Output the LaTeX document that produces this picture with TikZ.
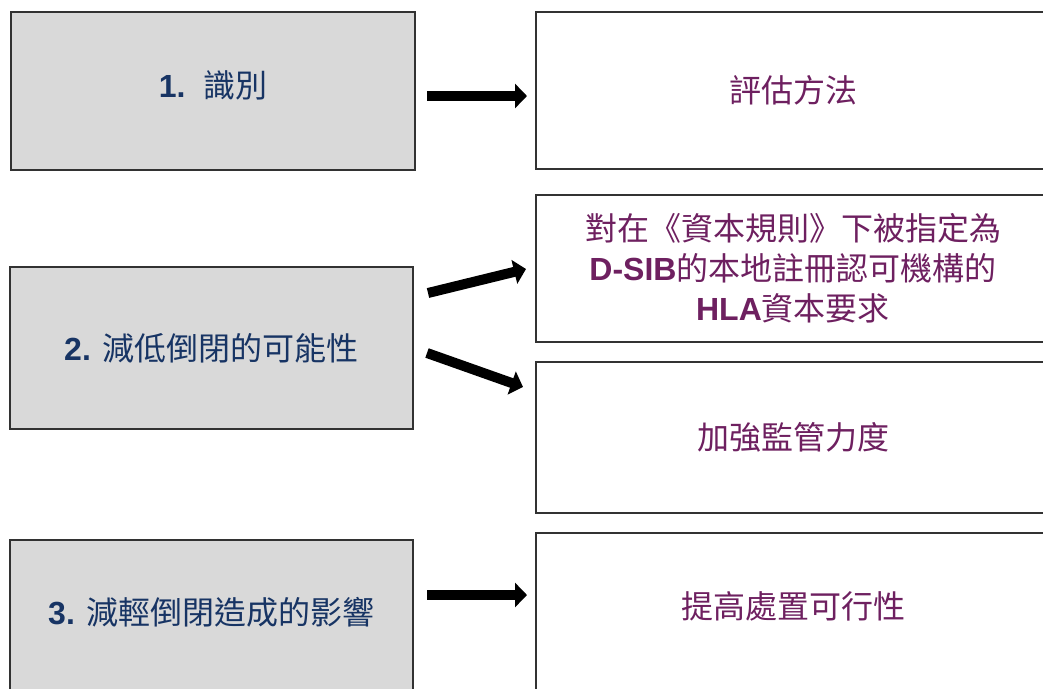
\documentclass[tikz,border=0pt]{standalone}
\usepackage{fontspec}
\setmainfont{Liberation Sans}
\newfontfamily\cjk{Noto Sans CJK TC}
\usetikzlibrary{arrows.meta}
\definecolor{navytext}{RGB}{23,52,100}
\definecolor{purptext}{RGB}{110,32,96}
\definecolor{boxgray}{RGB}{217,217,217}
\definecolor{edgegray}{RGB}{50,50,50}
\tikzset{
  leftbox/.style={draw=edgegray, line width=1.2pt, fill=boxgray, inner sep=0pt,
    text=navytext, font=\fontsize{32}{38}\selectfont},
  rightbox/.style={draw=edgegray, line width=1.2pt, fill=white, inner sep=0pt,
    text=purptext, font=\fontsize{32}{40}\selectfont, align=center},
  bigarrow/.style={line width=10pt, -{Triangle[length=12pt,width=24pt]}},
}
\begin{document}
\begin{tikzpicture}[x=1pt,y=-1pt]
\useasboundingbox (0,0) rectangle (1043,688);
\clip (0,0) rectangle (1043,688);
\fill[white] (0,0) rectangle (1043,688);
% left boxes
\node[leftbox, minimum width=404pt, minimum height=158pt,
  label={[text=navytext, font=\fontsize{32}{38}\selectfont, yshift=6pt]center:{\bfseries 1.}\ \ {\cjk 識別}}] (l1) at (213,91) {};
\node[leftbox, minimum width=403pt, minimum height=162pt] (l2) at (211.5,348)
  {{\bfseries 2.} {\cjk 減低倒閉的可能性}};
\node[leftbox, minimum width=403pt, minimum height=170pt,
  label={[text=navytext, font=\fontsize{32}{38}\selectfont, yshift=13pt]center:{\bfseries 3.} {\cjk 減輕倒閉造成的影響}}] (l3) at (211.5,625) {};
% right boxes
\node[rightbox, minimum width=514pt, minimum height=157pt] (r1) at (793,90.5)
  {\cjk 評估方法};
\node[rightbox, minimum width=514pt, minimum height=147pt] (r2a) at (793,268.5)
  {{\cjk 對在《資本規則》下被指定為}\\{\bfseries D-SIB}{\cjk 的本地註冊認可機構的}\\{\bfseries HLA}{\cjk 資本要求}};
\node[rightbox, minimum width=514pt, minimum height=151pt] (r2b) at (793,437.5)
  {\cjk 加強監管力度};
\node[rightbox, minimum width=514pt, minimum height=180pt,
  label={[text=purptext, font=\fontsize{32}{40}\selectfont, yshift=17pt]center:{\cjk 提高處置可行性}}] (r3) at (793,623) {};
% arrow end points
\coordinate (a1s) at (427,96);  \coordinate (a1e) at (527,96);
\coordinate (a2s) at (428,293); \coordinate (a2e) at (526,269);
\coordinate (a3s) at (427,353); \coordinate (a3e) at (523,387);
\coordinate (a4s) at (427,595); \coordinate (a4e) at (527,595);
\draw[bigarrow] (a1s) -- (a1e);
\draw[bigarrow] (a2s) -- (a2e);
\draw[bigarrow] (a3s) -- (a3e);
\draw[bigarrow] (a4s) -- (a4e);
\end{tikzpicture}
\end{document}
